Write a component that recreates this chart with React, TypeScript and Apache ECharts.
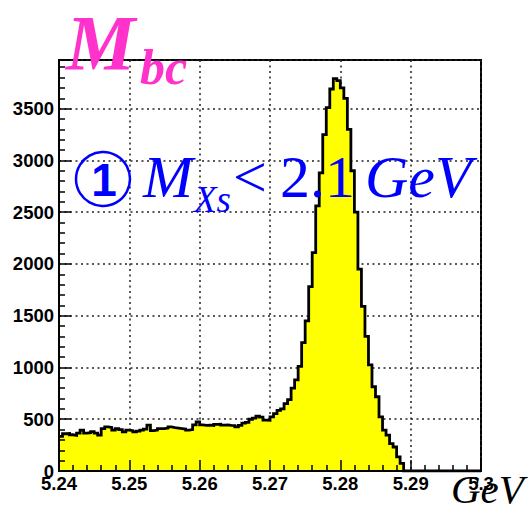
import React, { useEffect, useRef } from "react";
import * as echarts from "echarts";

// Histogram binning (GeV)
const BIN_START = 5.24;
const BIN_WIDTH = 0.0005;
const X_MIN = 5.24;
const X_MAX = 5.3;
const X_INTERVAL = 0.01;
const Y_MIN = 0;
const Y_MAX = 3970;
const Y_INTERVAL = 500;

// Entries per 0.5 MeV bin, 5.240 .. 5.300 GeV (120 bins)
const counts = [
  335, 360, 362, 350, 345, 365, 394, 365, 370, 380,
  365, 346, 410, 426, 420, 394, 410, 400, 378, 394,
  390, 378, 385, 394, 405, 443, 390, 395, 410, 410,
  415, 426, 420, 415, 410, 405, 395, 400, 445, 475,
  445, 440, 443, 440, 450, 452, 443, 445, 440, 438,
  426, 440, 462, 470, 500, 510, 529, 520, 491, 490,
  523, 555, 585, 600, 650, 690, 800, 880, 1010, 1240,
  1450, 1780, 2110, 2560, 2880, 3250, 3510, 3690, 3790, 3770,
  3700, 3600, 3300, 2900, 2500, 1950, 1590, 1300, 1025, 814,
  717, 523, 394, 346, 265, 232, 136, 74, 0, 0,
  0, 0, 0, 0, 0, 0, 0, 0, 0, 0,
  0, 0, 0, 0, 0, 0, 0, 0, 0, 0,
];

const titleMain = "M";
const titleSub = "bc";
const cutVar = "M";
const cutVarSub = "Xs";
const cutOp = "<";
const cutValue = "2.1";
const cutUnit = "GeV";
const cutIndex = "1";
const xUnit = "GeV";

export default function App() {
  const ref = useRef<HTMLDivElement>(null);

  useEffect(() => {
    if (!ref.current) return;
    const chart = echarts.init(ref.current, undefined, { renderer: "svg" });

    const data: [number, number][] = counts.map((v, i) => [
      +(BIN_START + i * BIN_WIDTH).toFixed(4),
      v,
    ]);
    data.push([X_MAX, 0]);

    const labelStyle = {
      color: "#000",
      fontSize: 18.5,
      fontWeight: "bold" as const,
      fontFamily: "Liberation Sans, Arial, sans-serif",
    };
    const gridLine = {
      show: true,
      lineStyle: { color: "#222", width: 1.5, type: [2, 3.5] as number[] },
    };

    const serif = "Liberation Serif, Times New Roman, serif";
    const blue = "#0000ff";
    const pink = "#ff33cc";
    const blueSize = 60;
    const blueY = 197 - 0.34 * blueSize;

    const text = (t: string, x: number, y: number, font: string, fill: string, align = "left") => ({
      type: "text",
      z: 100,
      style: {
        text: t,
        x,
        y,
        fill,
        font,
        textAlign: align,
        textVerticalAlign: "middle",
      },
    });

    const option: any = {
      animation: false,
      backgroundColor: "#fff",
      grid: {
        left: 59,
        right: 51,
        top: 60,
        bottom: 35,
        show: true,
        borderColor: "#000",
        borderWidth: 2,
        backgroundColor: "transparent",
      },
      xAxis: [
        {
          type: "value",
          min: X_MIN,
          max: X_MAX,
          interval: X_INTERVAL,
          position: "bottom",
          z: 10,
          axisLine: { show: true, onZero: false, lineStyle: { color: "#000", width: 2 } },
          axisTick: { show: true, inside: true, length: 11, lineStyle: { color: "#000", width: 1.5 } },
          minorTick: { show: true, splitNumber: 5, length: 6, lineStyle: { color: "#000", width: 1.5 } },
          axisLabel: { ...labelStyle, margin: 3, formatter: (v: number) => String(+v.toFixed(2)) },
          splitLine: { show: false },
        },
        {
          type: "value",
          min: X_MIN,
          max: X_MAX,
          interval: X_INTERVAL,
          position: "bottom",
          z: 0,
          axisLine: { show: false },
          axisTick: { show: false },
          axisLabel: { show: false },
          splitLine: gridLine,
        },
      ],
      yAxis: [
        {
          type: "value",
          min: Y_MIN,
          max: Y_MAX,
          interval: Y_INTERVAL,
          position: "left",
          z: 10,
          axisLine: { show: true, onZero: false, lineStyle: { color: "#000", width: 2 } },
          axisTick: { show: true, inside: true, length: 12, lineStyle: { color: "#000", width: 1.5 } },
          minorTick: { show: true, splitNumber: 5, length: 6, lineStyle: { color: "#000", width: 1.5 } },
          axisLabel: {
            ...labelStyle,
            margin: 5,
            showMaxLabel: false,
            formatter: (v: number) => String(Math.round(v)),
          },
          splitLine: { show: false },
        },
        {
          type: "value",
          min: Y_MIN,
          max: Y_MAX,
          interval: Y_INTERVAL,
          position: "left",
          z: 0,
          axisLine: { show: false },
          axisTick: { show: false },
          axisLabel: { show: false },
          splitLine: gridLine,
        },
      ],
      series: [
        {
          type: "line",
          xAxisIndex: 0,
          yAxisIndex: 0,
          step: "end",
          data,
          symbol: "none",
          z: 5,
          lineStyle: { color: "#000", width: 2.8, join: "miter" },
          areaStyle: { color: "#ffff00", opacity: 1 },
        },
      ],
      graphic: [
        text(titleMain, 66, 42, `italic bold 78px ${serif}`, pink),
        text(titleSub, 140, 67, `italic bold 50px ${serif}`, pink),
        {
          type: "circle",
          z: 100,
          shape: { cx: 103, cy: 179, r: 27 },
          style: { fill: "none", stroke: blue, lineWidth: 2.5 },
        },
        text(cutIndex, 104, 180, `bold 46px Liberation Sans, Arial, sans-serif`, blue, "center"),
        text(cutVar, 143, blueY, `italic ${blueSize}px ${serif}`, blue),
        text(cutVarSub, 194, 199.3, `italic 37px ${serif}`, blue),
        text(cutOp, 233, blueY, `${blueSize}px ${serif}`, blue),
        text(cutValue, 280, blueY, `${blueSize}px ${serif}`, blue),
        text(cutUnit, 365, blueY, `italic ${blueSize}px ${serif}`, blue),
        text(xUnit, 451, 489, `italic 41px ${serif}`, "#000"),
      ],
    };

    chart.setOption(option);
    return () => chart.dispose();
  }, []);

  return (
    <div
      ref={ref}
      style={{ position: "fixed", left: 0, top: 0, width: 532, height: 506, background: "#fff" }}
    />
  );
}
